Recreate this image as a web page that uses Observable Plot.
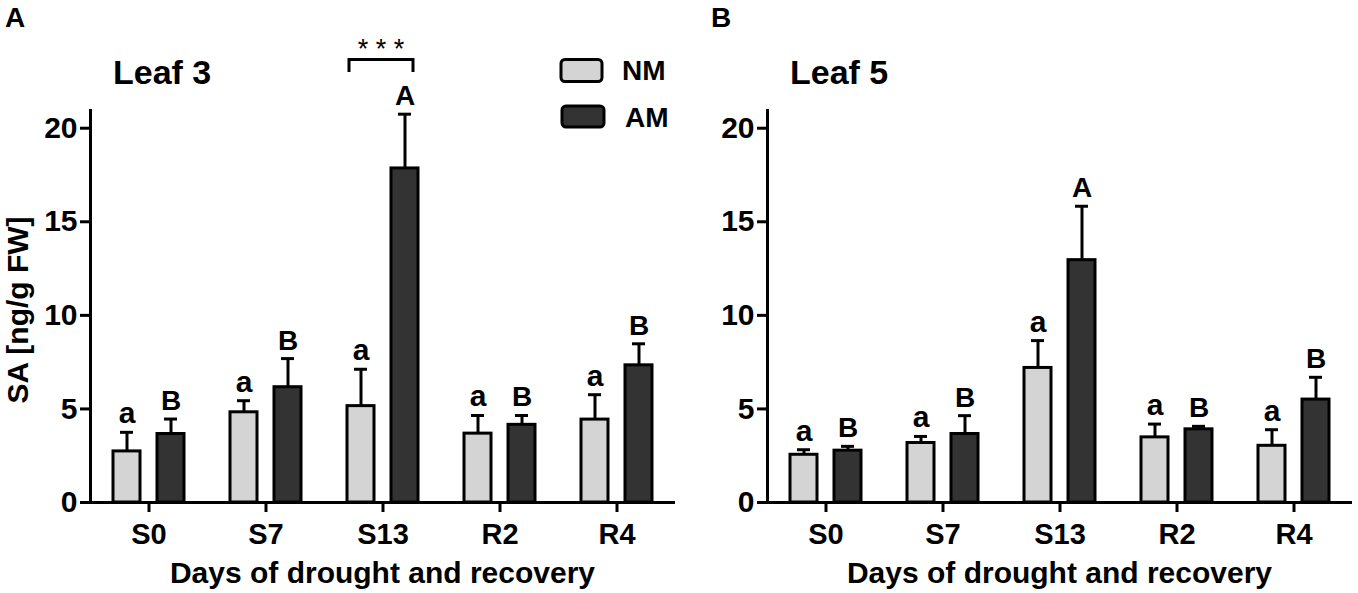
<!DOCTYPE html>
<html>
<head>
<meta charset="utf-8">
<script src="https://cdn.jsdelivr.net/npm/d3@7"></script>
<script src="https://cdn.jsdelivr.net/npm/@observablehq/plot@0.6"></script>
<style>
  html, body { margin: 0; padding: 0; background: white; }
  #wrap { position: relative; width: 1358px; height: 593px; overflow: hidden; background: white; }
  #wrap > svg, #wrap > div { position: absolute; top: 0; }
  #overlay { left: 0; pointer-events: none; }
</style>
</head>
<body>
<div id="wrap"></div>
<script>
// ---- data ----
const groups = ["S0", "S7", "S13", "R2", "R4"];
const series = ["NM", "AM"];
const nmLetters = ["a", "a", "a", "a", "a"];
const amLetters = ["B", "B", "A", "B", "B"];

// Leaf 3 (panel A)
const leaf3NM    = [2.73, 4.82, 5.15, 3.68, 4.43];
const leaf3NMerr = [1.02, 0.62, 1.97, 0.97, 1.33];
const leaf3AM    = [3.66, 6.16, 17.85, 4.15, 7.33];
const leaf3AMerr = [0.80, 1.53, 2.90, 0.50, 1.15];

// Leaf 5 (panel B)
const leaf5NM    = [2.55, 3.18, 7.19, 3.48, 3.03];
const leaf5NMerr = [0.27, 0.35, 1.46, 0.71, 0.86];
const leaf5AM    = [2.77, 3.66, 12.95, 3.91, 5.50];
const leaf5AMerr = [0.23, 0.98, 2.88, 0.16, 1.19];

const yTicks = [0, 5, 10, 15, 20];

const FONT = "'Liberation Sans', Arial, Helvetica, sans-serif";
const NM_FILL = "#d4d4d4";
const AM_FILL = "#333333";

function rows(nm, nmErr, am, amErr) {
  const out = [];
  groups.forEach((g, i) => {
    out.push({group: g, series: "NM", value: nm[i], hi: nm[i] + nmErr[i], letter: nmLetters[i]});
    out.push({group: g, series: "AM", value: am[i], hi: am[i] + amErr[i], letter: amLetters[i]});
  });
  return out;
}

function panel(data, width, marginLeft, marginRight) {
  const OFF = 22;           // half distance between paired bars
  const step = 117;         // band step (px) — used for insets only
  const barInset = (step - 27) / 2;
  const capInset = (step - 13) / 2;
  const nm = data.filter(d => d.series === "NM");
  const am = data.filter(d => d.series === "AM");
  const marks = [];
  for (const [subset, dx, fill, size] of [[nm, -OFF, NM_FILL, 30], [am, OFF, AM_FILL, 28]]) {
    marks.push(Plot.ruleX(subset, {x: "group", y1: "value", y2: "hi", dx, stroke: "black", strokeWidth: 3}));
    marks.push(Plot.tickY(subset, {x: "group", y: "hi", dx, insetLeft: capInset, insetRight: capInset, stroke: "black", strokeWidth: 3}));
    marks.push(Plot.barY(subset, {x: "group", y: "value", dx, insetLeft: barInset, insetRight: barInset, fill, stroke: "black", strokeWidth: 3}));
    marks.push(Plot.text(subset, {x: "group", y: "hi", dx, dy: -9, text: "letter", lineAnchor: "bottom", fontSize: size, fontWeight: "bold", fill: "black"}));
  }
  return Plot.plot({
    width, height: 593,
    marginLeft, marginRight, marginTop: 109, marginBottom: 91,
    style: {fontFamily: FONT, fontWeight: "bold", color: "black", background: "transparent", overflow: "visible"},
    x: {domain: groups, padding: 0, axis: null},
    y: {domain: [0, 21], axis: null},
    marks: [
      Plot.axisY({ticks: yTicks, tickSize: 10, tickPadding: 3, fontSize: 30, fontWeight: "bold", strokeWidth: 3, label: null, tickFormat: d => String(d)}),
      Plot.axisX({tickSize: 10, tickPadding: 11, fontSize: 29, fontWeight: "bold", strokeWidth: 3, label: null}),
      ...marks,
      Plot.ruleY([0], {stroke: "black", strokeWidth: 3}),
      Plot.ruleX([groups[0]], {x: d => d, dx: -step / 2, y1: 0, y2: 21, stroke: "black", strokeWidth: 3})
    ]
  });
}

const wrap = document.getElementById("wrap");

const pA = panel(rows(leaf3NM, leaf3NMerr, leaf3AM, leaf3AMerr), 680, 90, 5);
pA.style.left = "0px";
wrap.appendChild(pA);

const pB = panel(rows(leaf5NM, leaf5NMerr, leaf5AM, leaf5AMerr), 678, 87, 6);
pB.style.left = "680px";
wrap.appendChild(pB);

// ---- annotations overlay ----
const ov = d3.create("svg").attr("id", "overlay").attr("width", 1358).attr("height", 593)
  .style("font-family", FONT).style("font-weight", "bold");

function txt(x, y, s, size, anchor = "start", weight = "bold") {
  return ov.append("text").attr("x", x).attr("y", y).attr("font-size", size)
    .attr("text-anchor", anchor).attr("font-weight", weight).attr("fill", "black").text(s);
}
// panel letters
txt(5, 27, "A", 28);
txt(711, 27, "B", 28);
// titles
txt(113, 84, "Leaf 3", 34);
txt(790, 84, "Leaf 5", 34);
// significance bracket
ov.append("path").attr("d", "M349,72 V59.5 H413 V72").attr("fill", "none").attr("stroke", "black").attr("stroke-width", 3);
txt(381, 58, "* * *", 27, "middle", "normal");
// legend
ov.append("rect").attr("x", 561).attr("y", 59.5).attr("width", 41).attr("height", 22).attr("rx", 4)
  .attr("fill", NM_FILL).attr("stroke", "black").attr("stroke-width", 3);
ov.append("rect").attr("x", 562).attr("y", 106).attr("width", 42).attr("height", 21).attr("rx", 4)
  .attr("fill", AM_FILL).attr("stroke", "black").attr("stroke-width", 3);
txt(622, 80, series[0], 28);
txt(625, 127, series[1], 28);
// axis titles
txt(382.5, 583, "Days of drought and recovery", 30, "middle");
txt(1059.5, 583, "Days of drought and recovery", 30, "middle");
ov.append("text").attr("transform", "translate(28,310) rotate(-90)").attr("text-anchor", "middle")
  .attr("font-size", 30).attr("font-weight", "bold").attr("fill", "black").text("SA [ng/g FW]");

wrap.appendChild(ov.node());
</script>
</body>
</html>
